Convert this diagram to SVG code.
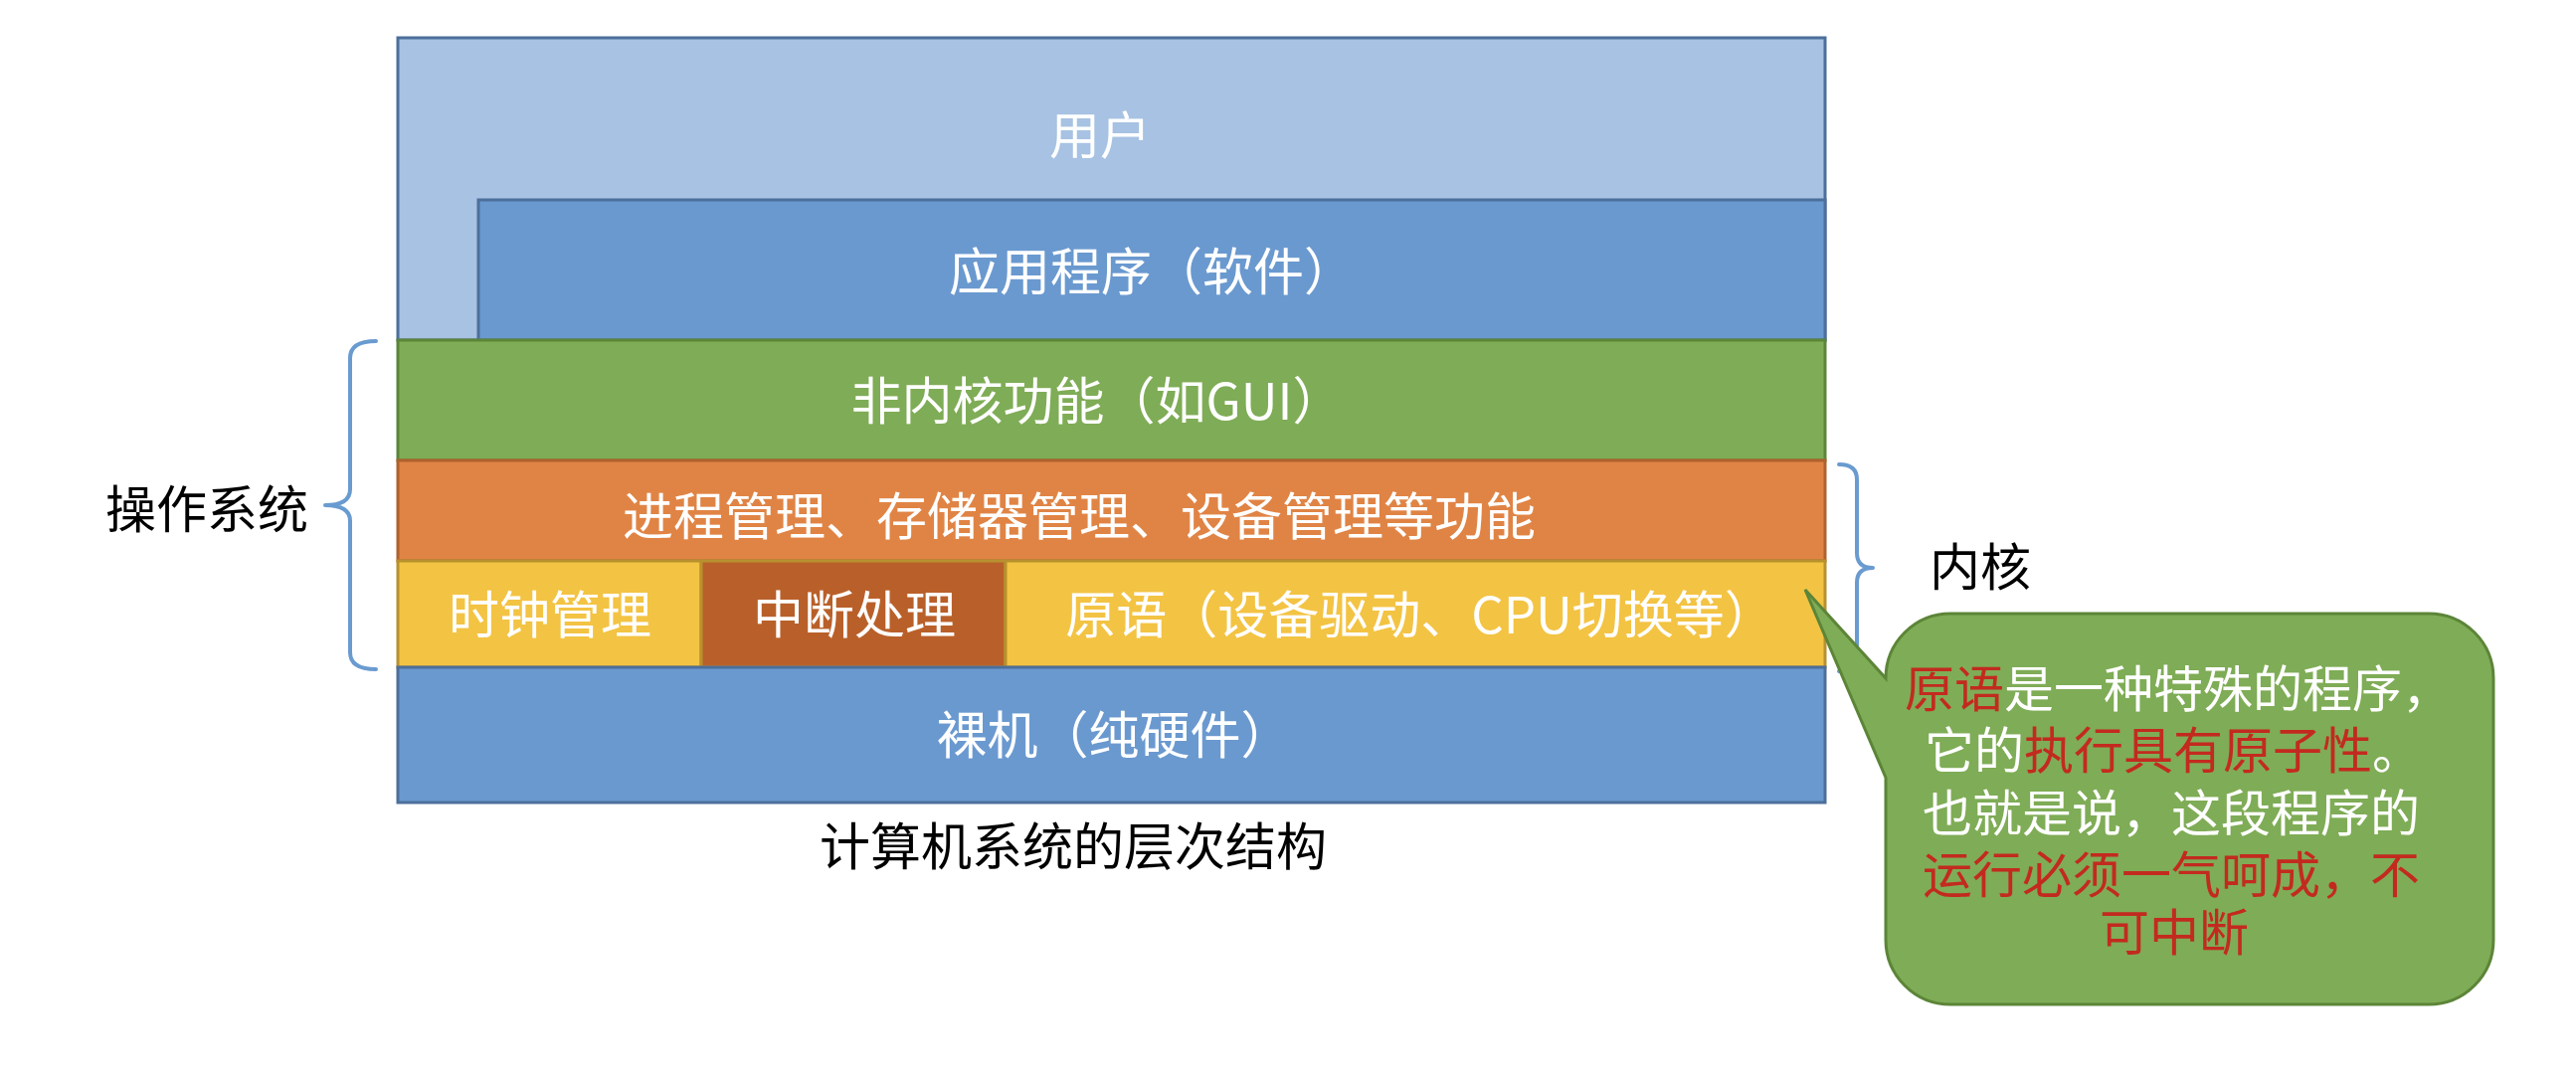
<svg xmlns="http://www.w3.org/2000/svg" width="2590" height="1082" viewBox="0 0 2590 1082">
<style>
text{font-family:"Noto Sans CJK SC","Noto Sans",sans-serif;}
.w{fill:#ffffff;font-size:51px;text-anchor:middle;}
.k{fill:#000000;font-size:51px;text-anchor:middle;}
.c{fill:#ffffff;font-size:50px;text-anchor:middle;}
.r{fill:#C32A1F;}
.brace{fill:none;stroke:#6A9BD0;stroke-width:4;stroke-linejoin:round;stroke-linecap:round;}
</style>
<rect width="2590" height="1082" fill="#ffffff"/>
<g id="user">
<rect x="400" y="38" width="1435" height="304" fill="#A7C2E2" stroke="#4C6F9B" stroke-width="3"/>
<text class="w" x="1106" y="155">用户</text>
</g>
<g id="app">
<rect x="481" y="201" width="1354" height="141" fill="#6A99CF" stroke="#4C6F9B" stroke-width="3"/>
<text class="w" x="1158" y="292">应用程序（软件）</text>
</g>
<g id="nonkernel">
<rect x="400" y="342" width="1435" height="121" fill="#7FAC56" stroke="#5C8538" stroke-width="3"/>
<text class="w" x="1103" y="422">非内核功能（如GUI）</text>
</g>
<g id="kernelfunc">
<rect x="400" y="463" width="1435" height="101" fill="#E08445" stroke="#B0612D" stroke-width="3"/>
<text class="w" x="1085" y="538">进程管理、存储器管理、设备管理等功能</text>
</g>
<g id="clock">
<rect x="400" y="564" width="305" height="107" fill="#F3C343" stroke="#B8912E" stroke-width="3"/>
<text class="w" x="553" y="637">时钟管理</text>
</g>
<g id="interrupt">
<rect x="705" y="564" width="306" height="107" fill="#B9602A" stroke="#B8912E" stroke-width="3"/>
<text class="w" x="859" y="637">中断处理</text>
</g>
<g id="primitive">
<rect x="1011" y="564" width="824" height="107" fill="#F3C343" stroke="#B8912E" stroke-width="3"/>
<text class="w" x="1428" y="637">原语（设备驱动、CPU切换等）</text>
</g>
<g id="hardware">
<rect x="400" y="671" width="1435" height="136" fill="#6A99CF" stroke="#4C6F9B" stroke-width="3"/>
<text class="w" x="1120" y="758">裸机（纯硬件）</text>
</g>
<g id="connectors">
<path class="brace" d="M378,343 Q352,343 352,360 V492 Q352,508 327,508 Q352,508 352,524 V656 Q352,673 378,673"/>
<path class="brace" d="M1849,467 Q1867,467 1867,482 V556 Q1867,571 1883,571 Q1867,571 1867,586 V660 Q1867,675 1849,675"/>
</g>
<g id="os-label">
<text class="k" x="208" y="531">操作系统</text>
</g>
<g id="kernel-label">
<text class="k" x="1991" y="589">内核</text>
</g>
<g id="caption">
<text class="k" x="1079" y="870">计算机系统的层次结构</text>
</g>
<g id="callout">
<path d="M1961,617 H2442 A65,65 0 0 1 2507,682 V945 A65,65 0 0 1 2442,1010 H1961 A65,65 0 0 1 1896,945 V782 L1815,593 L1896,682 A65,65 0 0 1 1961,617 Z" fill="#7FAC56" stroke="#5C8538" stroke-width="3"/>
<text class="c" x="2190" y="711"><tspan class="r">原语</tspan>是一种特殊的程序，</text>
<text class="c" x="2185" y="773">它的<tspan class="r">执行具有原子性</tspan>。</text>
<text class="c" x="2183" y="836">也就是说，这段程序的</text>
<text class="c r" x="2183" y="898">运行必须一气呵成，不</text>
<text class="c r" x="2186" y="956">可中断</text>
</g>
</svg>
